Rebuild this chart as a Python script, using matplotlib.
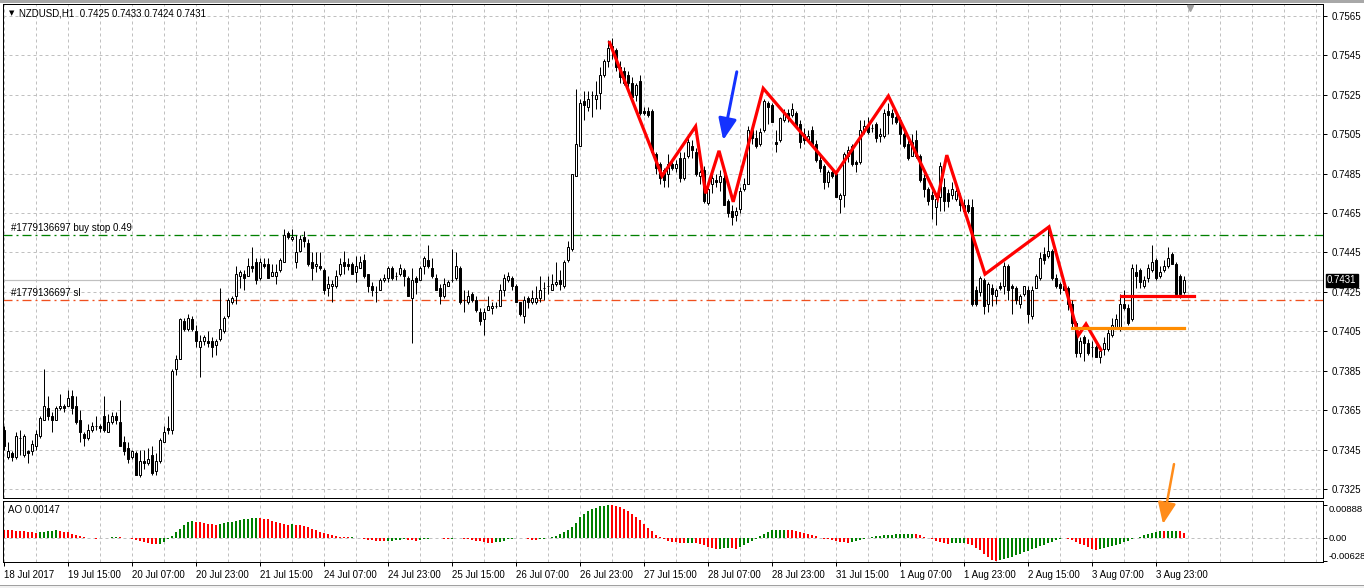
import matplotlib
matplotlib.use('Agg')
import matplotlib.pyplot as plt
import numpy as np
from matplotlib.transforms import blended_transform_factory, ScaledTranslation
from matplotlib.patches import Rectangle

plt.rcParams['font.family'] = ['Liberation Sans', 'DejaVu Sans']
plt.rcParams['lines.scale_dashes'] = False

symbol = "NZDUSD,H1"

# OHLC in units of 0.0001
opens = [7355,7341,7343,7341,7351,7342,7344,7344,7347,7352,7360,7366,7362,7360,7366,7367,7367,7372,7367,7360,
         7353,7351,7355,7357,7357,7362,7354,7359,7362,7359,7349,7346,7341,7343,7332,7339,7338,7342,7334,7339,
         7349,7356,7355,7386,7391,7410,7406,7411,7405,7397,7400,7400,7400,7398,7401,7405,7413,7420,7423,7433,
         7434,7433,7438,7440,7432,7439,7439,7433,7433,7436,7440,7455,7452,7440,7446,7453,7450,7440,7438,7438,
         7436,7427,7428,7428,7434,7440,7439,7439,7435,7437,7441,7434,7428,7425,7426,7431,7432,7437,7433,7434,
         7436,7432,7422,7432,7431,7438,7441,7437,7432,7427,7423,7428,7431,7432,7437,7421,7420,7424,7421,7415,
         7411,7416,7417,7418,7418,7426,7431,7432,7428,7420,7413,7422,7420,7420,7422,7427,7428,7426,7429,7431,
         7428,7441,7447,7484,7499,7522,7519,7525,7523,7526,7535,7542,7549,7548,7539,7537,7535,7531,7525,7532,
         7517,7517,7517,7495,7490,7487,7485,7490,7488,7493,7483,7494,7499,7496,7484,7487,7470,7480,7482,7481,
         7483,7471,7466,7464,7467,7477,7480,7507,7503,7500,7507,7521,7520,7501,7502,7512,7516,7515,7516,7510,
         7505,7502,7507,7500,7492,7489,7481,7486,7485,7472,7474,7494,7499,7491,7491,7507,7509,7508,7510,7504,
         7504,7517,7516,7514,7512,7505,7500,7494,7502,7494,7483,7477,7474,7468,7473,7478,7475,7474,7472,7472,
         7469,7469,7468,7426,7425,7431,7419,7427,7423,7428,7428,7438,7428,7427,7419,7424,7426,7413,7427,7432,
         7444,7443,7446,7432,7429,7428,7427,7419,7409,7394,7402,7399,7397,7397,7392,7396,7396,7403,7407,7406,
         7419,7417,7411,7435,7436,7428,7432,7436,7441,7433,7436,7438,7444,7439,7433,7425]
highs = [7357,7349,7344,7354,7355,7353,7345,7350,7355,7362,7386,7372,7364,7367,7373,7368,7375,7375,7372,7365,
         7354,7358,7359,7362,7358,7372,7363,7364,7364,7370,7352,7349,7345,7344,7345,7345,7346,7347,7343,7351,
         7357,7362,7386,7393,7412,7412,7414,7413,7408,7403,7403,7405,7402,7401,7427,7413,7422,7423,7438,7436,
         7436,7442,7448,7442,7442,7442,7442,7439,7439,7442,7457,7456,7457,7454,7454,7456,7452,7445,7445,7445,
         7437,7433,7431,7436,7442,7446,7442,7440,7443,7443,7444,7434,7430,7428,7432,7434,7438,7438,7435,7439,
         7437,7433,7437,7433,7438,7443,7449,7442,7434,7429,7432,7431,7447,7445,7438,7426,7426,7425,7423,7417,
         7417,7423,7420,7420,7429,7434,7435,7433,7429,7420,7423,7423,7426,7428,7433,7430,7433,7434,7440,7436,
         7441,7451,7485,7528,7523,7527,7527,7527,7532,7539,7543,7553,7554,7549,7542,7539,7537,7534,7531,7535,
         7519,7519,7518,7496,7491,7488,7495,7492,7492,7496,7496,7503,7502,7498,7487,7489,7478,7486,7485,7487,
         7486,7472,7469,7468,7478,7483,7509,7510,7507,7508,7523,7522,7521,7507,7514,7518,7518,7521,7517,7512,
         7508,7507,7509,7502,7494,7490,7487,7487,7486,7475,7496,7499,7500,7492,7512,7512,7514,7510,7511,7508,
         7518,7521,7518,7516,7514,7508,7502,7505,7507,7495,7485,7478,7476,7475,7491,7483,7477,7481,7478,7475,
         7472,7472,7472,7428,7433,7432,7430,7429,7427,7430,7440,7439,7429,7428,7424,7428,7428,7428,7434,7445,
         7448,7458,7447,7434,7430,7431,7428,7421,7410,7402,7403,7401,7400,7398,7397,7402,7406,7412,7414,7424,
         7426,7419,7439,7439,7437,7433,7439,7449,7442,7438,7441,7448,7445,7440,7434,7433]
lows = [7345,7340,7339,7340,7342,7341,7338,7342,7345,7351,7360,7360,7354,7360,7365,7364,7367,7363,7358,7349,
        7347,7350,7354,7355,7354,7354,7354,7358,7358,7347,7342,7338,7340,7332,7331,7335,7337,7332,7332,7338,
        7349,7353,7353,7383,7391,7405,7405,7405,7397,7382,7398,7397,7392,7393,7400,7404,7412,7419,7419,7427,
        7426,7433,7435,7429,7431,7437,7432,7433,7429,7435,7440,7452,7451,7437,7445,7448,7438,7431,7435,7436,
        7424,7423,7420,7427,7433,7434,7436,7434,7430,7437,7432,7425,7423,7420,7426,7430,7430,7431,7431,7433,
        7428,7423,7399,7424,7431,7434,7437,7432,7426,7419,7422,7428,7430,7431,7419,7415,7419,7420,7415,7408,
        7403,7416,7414,7417,7418,7423,7430,7426,7420,7413,7409,7417,7419,7419,7420,7421,7424,7426,7428,7426,
        7427,7440,7446,7484,7499,7512,7517,7514,7518,7518,7534,7539,7543,7537,7531,7530,7528,7524,7522,7515,
        7515,7514,7495,7485,7480,7478,7478,7487,7486,7481,7482,7493,7493,7484,7480,7470,7469,7475,7478,7476,
        7469,7463,7459,7461,7465,7476,7480,7500,7498,7499,7506,7510,7511,7496,7501,7511,7511,7514,7508,7498,
        7500,7501,7499,7491,7486,7477,7478,7483,7473,7465,7468,7491,7489,7486,7490,7505,7505,7506,7501,7501,
        7503,7505,7510,7510,7500,7498,7492,7494,7493,7481,7473,7469,7462,7459,7466,7466,7468,7472,7471,7466,
        7465,7465,7418,7418,7423,7414,7415,7418,7419,7426,7424,7421,7414,7419,7417,7423,7409,7411,7427,7431,
        7439,7442,7431,7427,7424,7426,7416,7407,7392,7392,7390,7393,7392,7392,7389,7393,7395,7402,7406,7405,
        7416,7408,7410,7427,7427,7427,7430,7435,7431,7432,7435,7437,7439,7423,7422,7424]
closes = [7347,7344,7341,7352,7351,7352,7343,7348,7353,7361,7367,7362,7360,7366,7367,7366,7371,7366,7359,7354,
          7351,7355,7357,7357,7356,7355,7359,7362,7360,7347,7344,7340,7344,7332,7339,7338,7340,7333,7339,7350,
          7354,7355,7385,7391,7411,7406,7412,7406,7400,7400,7402,7399,7397,7400,7406,7412,7421,7422,7434,7435,
          7432,7438,7437,7431,7440,7438,7432,7435,7435,7441,7454,7453,7453,7445,7452,7451,7439,7437,7439,7437,
          7426,7429,7429,7433,7439,7438,7438,7434,7438,7440,7433,7428,7426,7425,7431,7432,7437,7432,7433,7437,
          7433,7423,7431,7430,7437,7442,7438,7433,7426,7423,7429,7430,7431,7438,7420,7421,7423,7421,7416,7410,
          7415,7418,7418,7418,7426,7432,7433,7428,7420,7414,7421,7420,7422,7422,7426,7427,7428,7429,7430,7429,
          7440,7448,7485,7500,7521,7520,7523,7525,7525,7535,7542,7549,7550,7539,7534,7531,7531,7524,7530,7516,
          7516,7515,7496,7488,7483,7482,7490,7488,7490,7483,7493,7501,7497,7485,7486,7471,7477,7483,7481,7484,
          7469,7465,7463,7466,7476,7480,7507,7503,7499,7506,7522,7519,7511,7500,7513,7516,7513,7518,7509,7501,
          7502,7504,7500,7492,7488,7481,7486,7484,7473,7474,7495,7497,7490,7490,7507,7509,7506,7508,7503,7505,
          7516,7515,7514,7511,7505,7499,7493,7501,7494,7482,7477,7471,7472,7472,7489,7471,7471,7477,7476,7469,
          7466,7466,7419,7419,7432,7418,7429,7424,7426,7427,7438,7426,7427,7421,7423,7428,7414,7426,7433,7442,
          7441,7446,7432,7428,7427,7426,7419,7409,7394,7400,7399,7394,7397,7392,7395,7399,7404,7408,7411,7419,
          7417,7409,7437,7433,7430,7431,7437,7440,7432,7435,7438,7442,7439,7424,7424,7431]

# Awesome Oscillator values in units of 0.00001
ao_values = [224,215,205,195,185,175,165,155,145,
             150,170,190,200,205,
             190,170,150,120,90,60,30,10,
             -8,-15,-12,5,10,15,25,20,10,-5,
             -30,-60,-90,-120,-140,-155,-160,
             -150,-100,-30,60,150,250,340,420,470,
             440,420,400,380,370,360,
             380,400,420,440,460,480,500,520,540,550,
             540,520,500,470,440,410,380,360,365,
             350,340,320,290,250,210,170,130,100,
             70,45,30,20,15,20,10,
             -10,-30,-50,-60,-70,-80,-85,
             -80,-70,-55,-45,-35,
             -45,-60,-70,
             -55,-40,-25,
             0,10,-10,-20,-25,-15,-10,-5,
             -15,-30,-50,-70,-90,-110,-130,-140,
             -120,-100,-70,-40,-15,
             0,10,
             -10,-30,-50,-60,
             -40,-20,0,30,60,100,150,220,300,400,
             560,650,720,780,820,850,870,888,
             880,860,830,780,720,650,570,480,380,280,180,80,
             20,
             -40,-70,-100,-120,-130,-135,
             -130,-125,
             -140,-170,-200,-230,-260,-295,
             -290,-280,-270,
             -280,-290,
             -250,-200,-140,-80,
             -20,40,110,170,210,
             220,225,228,220,
             210,190,160,130,100,70,40,10,-20,-40,
             -60,-80,-100,-115,-125,
             -110,-90,-60,-30,
             0,20,40,60,70,80,90,100,105,110,115,118,
             100,70,30,-10,-40,
             -70,-100,-130,-150,
             -145,-140,-135,-130,
             -160,-200,-260,-330,-420,-500,-580,-628,
             -600,-570,-540,-500,-460,-420,-380,-340,-300,-260,-220,-180,-140,
             -100,-60,-30,-10,
             -30,-60,-100,-150,-200,-250,-290,-315,
             -300,-280,-250,-220,-190,-160,-120,-80,-40,0,
             30,70,110,140,165,185,180,183,190,192,175,147]

date_labels = ["18 Jul 2017", "19 Jul 15:00", "20 Jul 07:00", "20 Jul 23:00", "21 Jul 15:00",
               "24 Jul 07:00", "24 Jul 23:00", "25 Jul 15:00", "26 Jul 07:00", "26 Jul 23:00",
               "27 Jul 15:00", "28 Jul 07:00", "28 Jul 23:00", "31 Jul 15:00", "1 Aug 07:00",
               "1 Aug 23:00", "2 Aug 15:00", "3 Aug 07:00", "3 Aug 23:00"]
price_ticks = [0.7325, 0.7345, 0.7365, 0.7385, 0.7405, 0.7425, 0.7445, 0.7465, 0.7485, 0.7505,
               0.7525, 0.7545, 0.7565]
ao_ticks = [0.00888, 0.0, -0.00628]
order_id = "#1779136697"
buy_stop_price = 0.7454
buy_stop_lots = 0.49
sl_price = 0.7421

# hand-drawn zigzag (bar index, price)
zigzag_bars = [151.25, 164.5, 172.9, 175.4, 178.75, 182.3, 189.8, 208.0, 221.1, 233.4,
               235.7, 245.25, 261.25, 268.6, 270.5, 274.4]
zigzag_prices = [0.75523, 0.74838, 0.7509, 0.7475, 0.74966, 0.74707, 0.75283, 0.74852, 0.75244, 0.74725,
                 0.74944, 0.7434, 0.7458, 0.7403, 0.74087, 0.7395]
red_level_bars = [279.2, 297.6]
red_level_price = 0.74227
orange_level_bars = [266.9, 295.1]
orange_level_price = 0.74066
blue_arrow_tail = (183.2, 0.75367)
blue_arrow_tip = (179.8, 0.7502)
orange_arrow_tail = (292.5, 0.73376)   # main chart coords
orange_arrow_tip = (289.75, 0.00377)   # AO coords

# ---------------- figure ----------------
W, H = 1364, 588
fig = plt.figure(figsize=(W / 100, H / 100), dpi=100)
fig.patch.set_facecolor('white')

def ax_rect(left, top, right, bottom):
    return [left / W, 1 - bottom / H, (right - left) / W, (bottom - top) / H]

# window frame (top strip, bottom tab bar line)
fig.add_artist(Rectangle((0, 1 - 2.5 / H), 1, 2.5 / H, transform=fig.transFigure,
                         facecolor='#a8a8a8', edgecolor='none'))
fig.add_artist(Rectangle((0, 0), 1, 3 / H, transform=fig.transFigure,
                         facecolor='#f0f0f0', edgecolor='none'))
fig.add_artist(plt.Line2D([0, 1], [3.5 / H, 3.5 / H], transform=fig.transFigure,
                          color='#a0a0a0', lw=0.72))

ax = fig.add_axes(ax_rect(3, 4, 1323, 498))
ax2 = fig.add_axes(ax_rect(3, 501, 1323, 562), sharex=ax)

n = len(closes)
assert len(opens) == len(highs) == len(lows) == n == len(ao_values) == 296
x = np.arange(n)
o = np.array(opens) / 1e4
h = np.array(highs) / 1e4
l = np.array(lows) / 1e4
c = np.array(closes) / 1e4

grid_col = '#c0c0c0'
px = 0.72  # points per pixel
grid_ls = (0, (3 * px, 3 * px))
dashdot = (0, (9 * px, 4 * px, 2 * px, 4 * px))

ax.set_xlim(-0.25, 329.75)
ax.set_ylim(0.73204, 0.75711)

# grid
for gx in np.arange(0, 330, 8):
    ax.axvline(gx, color=grid_col, lw=1 * px, ls=grid_ls, zorder=0)
    ax2.axvline(gx, color=grid_col, lw=1 * px, ls=grid_ls, zorder=0)
for gy in price_ticks:
    ax.axhline(gy, color=grid_col, lw=1 * px, ls=grid_ls, zorder=0)

# current price line & order lines
ax.axhline(c[-1], color='#c0c0c0', lw=1.2 * px, zorder=1)
ax.axhline(buy_stop_price, color='#008000', lw=1.3 * px, ls=dashdot, zorder=1)
ax.axhline(sl_price, color='#f0501e', lw=1.3 * px, ls=dashdot, zorder=1)

# candles
ax.vlines(x, l, h, color='black', lw=1 * px, zorder=2)
up = c >= o
ax.bar(x, np.abs(c - o), bottom=np.minimum(o, c), width=0.55,
       color=np.where(up, 'white', 'black'), edgecolor='black', linewidth=1 * px, zorder=3)

# drawings
ax.plot(zigzag_bars, zigzag_prices, color='#ff0000', lw=3.2 * px, solid_joinstyle='miter',
        solid_capstyle='butt', zorder=5)
ax.plot(red_level_bars, [red_level_price] * 2, color='#ff0000', lw=3.2 * px, zorder=5)
ax.plot(orange_level_bars, [orange_level_price] * 2, color='#ff8c00', lw=3.2 * px, zorder=5)
ax.annotate('', xy=blue_arrow_tip, xytext=blue_arrow_tail,
            arrowprops=dict(arrowstyle='-|>,head_length=1.3,head_width=0.55', lw=3 * px,
                            color='#1432ff', mutation_scale=10, shrinkA=0, shrinkB=0), zorder=6)
ax2.annotate('', xy=orange_arrow_tip, xycoords=ax2.transData,
             xytext=orange_arrow_tail, textcoords=ax.transData,
             arrowprops=dict(arrowstyle='-|>,head_length=1.3,head_width=0.55', lw=2.5 * px,
                             color='#ff8c1a', mutation_scale=10, shrinkA=0, shrinkB=0),
             annotation_clip=False, zorder=10)

# axes styling
for a in (ax, ax2):
    for s in a.spines.values():
        s.set_color('black')
        s.set_linewidth(1 * px)
    a.yaxis.tick_right()
    a.tick_params(axis='y', direction='out', length=3, width=1 * px, pad=3, labelsize=7, colors='black')

ax.set_yticks(price_ticks)
ax.set_yticklabels([f"{p:.4f}" for p in price_ticks])
ax.tick_params(axis='x', bottom=False, labelbottom=False)

# AO panel
ao = np.array(ao_values) / 1e5
ao_col = ['#008000' if (i > 0 and ao[i] > ao[i - 1]) else '#ff0000' for i in range(n)]
ax2.bar(x, ao, width=0.72, color=ao_col, linewidth=0, zorder=2)
ax2.axhline(0, color=grid_col, lw=1 * px, ls=grid_ls, zorder=1)
ax2.set_ylim(-0.00646, 0.00995)
ax2.set_yticks(ao_ticks)
ax2.set_yticklabels(["0.00888", "0.00", "-0.00628"])
ax2.tick_params(axis='y', labelsize=6.8, pad=1)
tl = ax2.get_yticklabels()
tl[0].set_va('top')
tl[2].set_va('bottom')

tick_pos = np.arange(len(date_labels)) * 16
ax2.set_xticks(tick_pos)
ax2.set_xticklabels(date_labels)
ax2.tick_params(axis='x', direction='out', length=3, width=1 * px, pad=3, labelsize=7)
for t in ax2.get_xticklabels():
    t.set_ha('left')

# texts
ax.annotate('\u25BC', xy=(0, 1), xycoords='axes fraction', xytext=(6, -9), textcoords='offset pixels',
            fontsize=5, va='center', ha='left', family=['DejaVu Sans'])
ax.annotate(f"{symbol}  {o[-1]:.4f} {h[-1]:.4f} {l[-1]:.4f} {c[-1]:.4f}", xy=(0, 1),
            xycoords='axes fraction', xytext=(16, -9), textcoords='offset pixels',
            fontsize=7, va='center', ha='left')
tr = blended_transform_factory(ax.transAxes, ax.transData)
ax.annotate(f"{order_id} buy stop {buy_stop_lots:.2f}", xy=(0, buy_stop_price), xycoords=tr,
            xytext=(8, 7), textcoords='offset pixels', fontsize=7, va='center', ha='left')
ax.annotate(f"{order_id} sl", xy=(0, sl_price), xycoords=tr,
            xytext=(8, 7), textcoords='offset pixels', fontsize=7, va='center', ha='left')
ax.annotate(f"{c[-1]:.4f}", xy=(1, c[-1]), xycoords=tr, xytext=(4, 0), textcoords='offset pixels',
            fontsize=7, va='center', ha='left', color='white', annotation_clip=False,
            bbox=dict(boxstyle='square,pad=0.15', fc='black', ec='black'))
ax2.annotate(f"AO {ao[-1]:.5f}", xy=(0, 1), xycoords='axes fraction', xytext=(5, -9),
             textcoords='offset pixels', fontsize=7, va='center', ha='left')
# chart shift marker
ax.plot([n + 0.5], [1.0], marker='v', color='#a0a0a0', ms=5,
        transform=blended_transform_factory(ax.transData, ax.transAxes) +
        ScaledTranslation(0, -4 / 100, fig.dpi_scale_trans),
        clip_on=False, zorder=7)

fig.savefig('out.png', dpi=100)
